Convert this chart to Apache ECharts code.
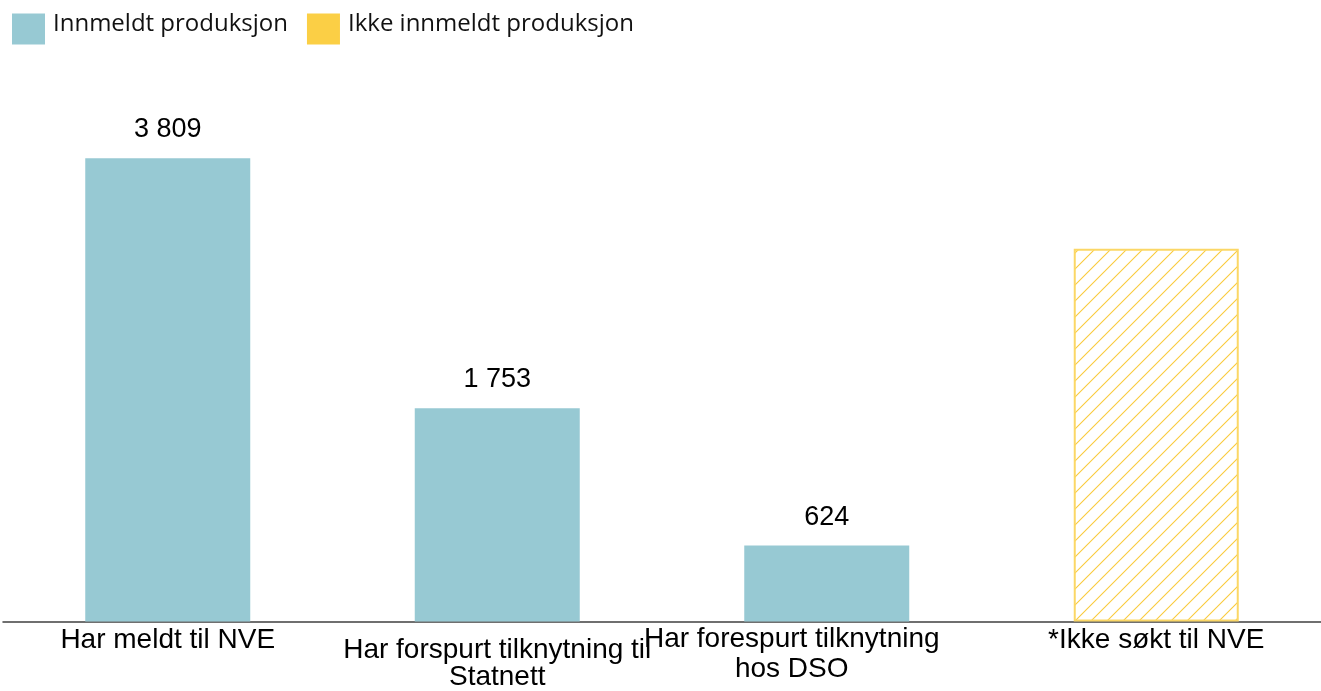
<!DOCTYPE html>
<html>
<head>
<meta charset="utf-8">
<script src="https://cdn.jsdelivr.net/npm/echarts@6/dist/echarts.min.js"></script>
<style>
  html, body { margin: 0; padding: 0; background: #fff; }
  #chart { width: 1321px; height: 691px; }
</style>
</head>
<body>
<div id="chart"></div>
<script>
// chart data
const categories = [
  'Har meldt til NVE',
  'Har forspurt tilknytning til\nStatnett',
  'Har forespurt tilknytning\nhos DSO',
  '*Ikke søkt til NVE'
]
const innmeldt = [3809, 1753, 624, null]
const ikkeInnmeldt = [null, null, null, 3065]
const seriesNames = ['Innmeldt produksjon', 'Ikke innmeldt produksjon']

// label tweaks per category (line height / padding)
const labelStyles = [
  { lineHeight: 27, padding: [2, 0, 0, 0] },
  { lineHeight: 27, padding: [12, 0, 0, 0] },
  { lineHeight: 30, padding: [0, 70, 0, 0] },
  { lineHeight: 27, padding: [2, 0, 0, 0] }
]

function hatch() {
  const c = document.createElement('canvas')
  c.width = 16
  c.height = 16
  const g = c.getContext('2d')
  g.strokeStyle = '#F9CB3C'
  g.lineWidth = 1.1
  g.beginPath()
  g.moveTo(-2, 18); g.lineTo(18, -2)
  g.moveTo(-2, 2); g.lineTo(2, -2)
  g.moveTo(14, 18); g.lineTo(18, 14)
  g.stroke()
  return c
}

function fmt(v) {
  return String(v).replace(/\B(?=(\d{3})+(?!\d))/g, ' ')
}

const chart = echarts.init(document.getElementById('chart'))
chart.setOption({
  backgroundColor: '#fff',
  animation: false,
  legend: {
    left: 12,
    top: 12,
    padding: 0,
    itemWidth: 33,
    itemHeight: 31,
    itemGap: 19,
    icon: 'rect',
    formatter: '{a|{name}}',
    textStyle: {
      rich: {
        a: {
          fontFamily: 'Open Sans',
          fontSize: 24,
          lineHeight: 24,
          color: '#111',
          padding: [0, 0, 10, 3]
        }
      }
    },
    data: [
      { name: seriesNames[0] },
      { name: seriesNames[1], itemStyle: { color: '#FBCF45', borderWidth: 0 } }
    ]
  },
  grid: {
    left: 3,
    right: 0,
    top: 50,
    bottom: 67
  },
  xAxis: {
    type: 'category',
    data: categories.map((c, i) => ({ value: c, textStyle: labelStyles[i] })),
    axisLine: { lineStyle: { color: '#404040', width: 1.5 } },
    axisTick: { show: false },
    axisLabel: {
      interval: 0,
      margin: 3,
      fontFamily: 'Liberation Sans',
      fontSize: 28,
      color: '#000'
    }
  },
  yAxis: {
    type: 'value',
    min: 0,
    max: 4700,
    show: false,
    splitLine: { show: false }
  },
  series: [
    {
      name: seriesNames[0],
      type: 'bar',
      stack: 'total',
      barWidth: 165,
      itemStyle: { color: '#97C9D3' },
      label: {
        show: true,
        position: 'top',
        distance: 15,
        fontFamily: 'Liberation Sans',
        fontSize: 27,
        color: '#000',
        formatter: p => fmt(p.value)
      },
      data: innmeldt
    },
    {
      name: seriesNames[1],
      type: 'bar',
      stack: 'total',
      barWidth: 165,
      itemStyle: {
        color: { image: hatch(), repeat: 'repeat' },
        borderColor: '#FBD766',
        borderWidth: 2
      },
      data: ikkeInnmeldt
    }
  ]
})
</script>
</body>
</html>
